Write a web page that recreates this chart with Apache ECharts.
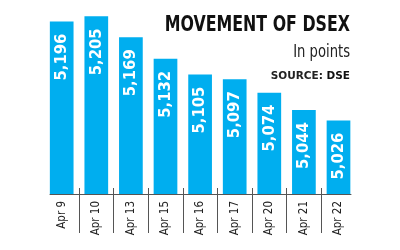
<!DOCTYPE html>
<html>
<head>
<meta charset="utf-8">
<script src="https://cdn.jsdelivr.net/npm/echarts@6/dist/echarts.min.js"></script>
<style>
html,body{margin:0;padding:0;background:#fff;}
#c{width:400px;height:250px;}
</style>
</head>
<body>
<div id="c"></div>
<script>
var categories = ['Apr 9','Apr 10','Apr 13','Apr 15','Apr 16','Apr 17','Apr 20','Apr 21','Apr 22'];
var values = [5196, 5205, 5169, 5132, 5105, 5097, 5074, 5044, 5026];
var tickPositions = [1, 8]; // boundary ticks between categories (index range)
var titleText = 'MOVEMENT OF DSEX';
var subText = 'In points';
var sourceLabel = 'SOURCE: ';
var sourceName = 'DSE';

var NARROW = '"DejaVu Sans Condensed", "Liberation Sans Narrow", sans-serif';
var chart = echarts.init(document.getElementById('c'), null, {renderer: 'canvas'});
chart.setOption({
  animation: false,
  backgroundColor: '#ffffff',
  title: [
    {text: '{a|' + sourceLabel + '}{b|' + sourceName + '}', right: 50, top: 70.5, padding: 0,
     textStyle: {rich: {
       a: {fontFamily: '"DejaVu Sans", sans-serif', fontSize: 10.5, color: '#222'},
       b: {fontFamily: '"DejaVu Sans", sans-serif', fontSize: 10.5, fontWeight: 'bold', color: '#111'}
     }}}
  ],
  graphic: [
    {type: 'text', x: 350, y: 14, scaleX: 0.8, silent: true,
     style: {text: titleText, align: 'right', verticalAlign: 'top',
             font: 'bold 22px ' + NARROW, fill: '#111'}},
    {type: 'text', x: 350, y: 44, scaleX: 0.86, silent: true,
     style: {text: subText, align: 'right', verticalAlign: 'top',
             font: 'normal 17px ' + NARROW, fill: '#222'}}
  ],
  grid: [
    {left: 44.4, right: 44.2, top: 0, bottom: 56},
    {left: 79, right: 78.8, top: 0, bottom: 62},
    {left: 50, right: 49, top: 0, bottom: 56}
  ],
  xAxis: [
    {type: 'category', gridIndex: 0, data: categories,
     axisLine: {show: false}, axisTick: {show: false},
     axisLabel: {rotate: 90, margin: 7, fontFamily: NARROW, fontSize: 11.5, color: '#222'}},
    {type: 'value', gridIndex: 1, min: tickPositions[0], max: tickPositions[1], interval: 1,
     axisLine: {show: false}, axisLabel: {show: false}, splitLine: {show: false},
     axisTick: {show: true, length: 45, lineStyle: {color: '#555', width: 1}}},
    {type: 'value', gridIndex: 2, min: 0, max: 1,
     axisLine: {show: true, lineStyle: {color: '#555', width: 1}},
     axisLabel: {show: false}, splitLine: {show: false}, axisTick: {show: false}}
  ],
  yAxis: [
    {type: 'value', gridIndex: 0, min: 4900, max: 5233, show: false, splitLine: {show: false}},
    {type: 'value', gridIndex: 1, show: false, splitLine: {show: false}},
    {type: 'value', gridIndex: 2, show: false, splitLine: {show: false}}
  ],
  series: [{
    type: 'bar', xAxisIndex: 0, yAxisIndex: 0,
    data: values,
    barCategoryGap: '31.5%',
    itemStyle: {color: '#00AEEF'},
    label: {
      show: true, position: 'insideTop', rotate: 90, distance: 12,
      align: 'right', verticalAlign: 'middle',
      fontFamily: NARROW, fontWeight: 'bold', fontSize: 16.5, color: '#ffffff',
      formatter: function (p) { return p.value.toLocaleString('en-US'); }
    }
  }]
});
</script>
</body>
</html>
